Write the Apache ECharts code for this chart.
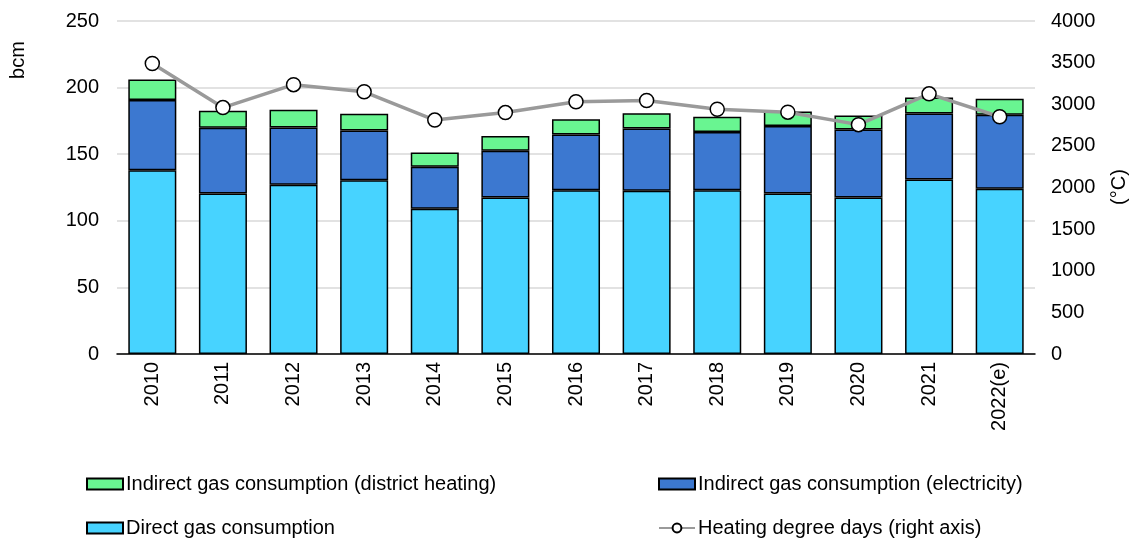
<!DOCTYPE html>
<html>
<head>
<meta charset="utf-8">
<script src="https://cdn.jsdelivr.net/npm/echarts@6/dist/echarts.min.js"></script>
<style>
  html, body { margin: 0; padding: 0; background: #fff; }
  #chart-dev { width: 1132px; height: 540px; }
</style>
</head>
<body>
<div id="chart-dev"></div>
<script>
var years = ['2010', '2011', '2012', '2013', '2014', '2015', '2016', '2017', '2018', '2019', '2020', '2021', '2022(e)'];
var directGas = [138, 120.5, 127, 130.5, 109, 117.5, 123, 122.5, 123, 120.5, 117.5, 131, 124];
var electricityGas = [52.6, 49.3, 43, 37.3, 31.5, 35, 41.8, 46.8, 43.6, 50.6, 51.1, 49.6, 55.6];
var districtHeatingGas = [15.5, 12.8, 13.3, 12.5, 10.7, 11.1, 11.5, 11.5, 11.5, 11, 10.5, 12, 12];
var heatingDegreeDays = [3490, 2960, 3235, 3150, 2810, 2900, 3030, 3045, 2940, 2905, 2755, 3125, 2850];
var leftTicks = [0, 50, 100, 150, 200, 250];
var rightTicks = [0, 500, 1000, 1500, 2000, 2500, 3000, 3500, 4000];

var dom = document.getElementById('chart-dev');
var myChart = echarts.init(dom, null, { renderer: 'canvas' });

var font = 'Liberation Sans, Arial, sans-serif';

function legendAt(name, left, top, icon) {
    var l = {
        data: [name],
        left: left,
        top: top,
        itemWidth: 36,
        itemHeight: 11,
        itemGap: 0,
        textStyle: { fontFamily: font, fontSize: 20, color: '#000', padding: [0, 0, 0, -2] },
        selectedMode: false
    };
    if (icon) l.icon = icon;
    return l;
}

var option = {
    animation: false,
    textStyle: { fontFamily: font },
    grid: { left: 117, right: 97, top: 21, bottom: 186 },
    legend: [
        legendAt('Indirect gas consumption (district heating)', 81, 469, 'rect'),
        legendAt('Indirect gas consumption (electricity)', 653, 469, 'rect'),
        legendAt('Direct gas consumption', 81, 513, 'rect'),
        legendAt('Heating degree days (right axis)', 653, 513)
    ],
    graphic: [
        {
            type: 'text', x: 18, y: 60, rotation: Math.PI / 2,
            style: { text: 'bcm', font: '20px ' + font, fill: '#000', align: 'center', verticalAlign: 'middle' }
        },
        {
            type: 'text', x: 1119, y: 187, rotation: Math.PI / 2,
            style: { text: '(°C)', font: '20px ' + font, fill: '#000', align: 'center', verticalAlign: 'middle' }
        }
    ],
    xAxis: {
        type: 'category',
        data: years,
        axisLine: { lineStyle: { color: '#000', width: 1.5 } },
        axisTick: { show: false },
        axisLabel: { rotate: 90, fontSize: 20, color: '#000', margin: 8, fontFamily: font }
    },
    yAxis: [
        {
            type: 'value', min: 0, max: 250, interval: 50,
            axisLine: { show: false }, axisTick: { show: false },
            axisLabel: { fontSize: 20, color: '#000', margin: 18, fontFamily: font,
                formatter: function (v) { return leftTicks.indexOf(v) >= 0 ? String(v) : ''; } },
            splitLine: { lineStyle: { color: '#d9d9d9', width: 1.5 } }
        },
        {
            type: 'value', min: 0, max: 4000, interval: 500,
            axisLine: { show: false }, axisTick: { show: false },
            axisLabel: { fontSize: 20, color: '#000', margin: 16, fontFamily: font,
                formatter: function (v) { return rightTicks.indexOf(v) >= 0 ? String(v) : ''; } },
            splitLine: { show: false }
        }
    ],
    series: [
        {
            name: 'Direct gas consumption', type: 'bar', stack: 'gas', barWidth: '68%',
            data: directGas,
            itemStyle: { color: '#47D3FF', borderColor: '#000', borderWidth: 1.5 }
        },
        {
            name: 'Indirect gas consumption (electricity)', type: 'bar', stack: 'gas',
            data: electricityGas,
            itemStyle: { color: '#3C78D0', borderColor: '#000', borderWidth: 1.5 }
        },
        {
            name: 'Indirect gas consumption (district heating)', type: 'bar', stack: 'gas',
            data: districtHeatingGas,
            itemStyle: { color: '#69F591', borderColor: '#000', borderWidth: 1.5 }
        },
        {
            name: 'Heating degree days (right axis)', type: 'line', yAxisIndex: 1,
            data: heatingDegreeDays,
            symbol: 'circle', symbolSize: 14,
            lineStyle: { color: '#9a9a9a', width: 3.5 },
            itemStyle: { color: '#fff', borderColor: '#000', borderWidth: 1.5 },
            z: 5
        }
    ]
};

if (option && typeof option === 'object') {
    myChart.setOption(option);
}

window.addEventListener('resize', myChart.resize);
</script>
</body>
</html>
